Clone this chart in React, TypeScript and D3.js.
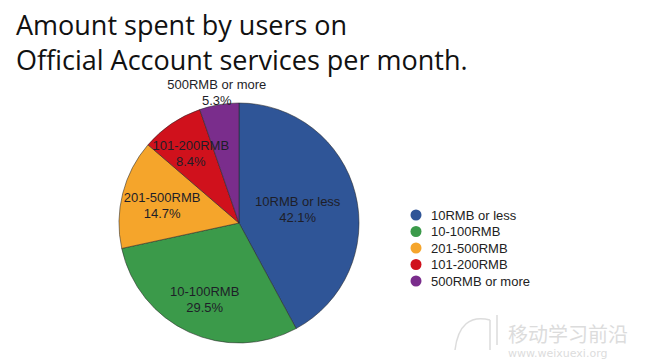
import React from "react";
import * as d3 from "d3";

const categories = ["10RMB or less", "10-100RMB", "201-500RMB", "101-200RMB", "500RMB or more"];
const values = [42.1, 29.5, 14.7, 8.4, 5.3];
const colors = ["#2f5597", "#3b9a4a", "#f5a52b", "#d0111c", "#7a2d8c"];
const titleLines = ["Amount spent by users on", "Official Account services per month."];
// label radius as a fraction of the pie radius (layout only)
const labelRadius = [0.505, 0.686, 0.661, 0.715, 1.118];

export default function App() {
  const W = 651, H = 361;
  const cx = 239, cy = 223, r = 120;
  const pie = d3.pie<number>().sort(null).value((d) => d)(values);
  const arc = d3.arc<d3.PieArcDatum<number>>().innerRadius(0).outerRadius(r);
  return (
    <div style={{ position: "absolute", left: 0, top: 0 }}>
      <svg width={W} height={H} style={{ display: "block", background: "#fff" }}>
        <rect width={W} height={H} fill="#fff" />
        {titleLines.map((t, i) => (
          <text key={i} x={16} y={35 + i * 35} fontFamily="'Open Sans', 'Noto Sans', sans-serif" fontSize={27}
            fill="#111">
            {t}
          </text>
        ))}
        <g transform={`translate(${cx},${cy})`}>
          {pie.map((p, i) => (
            <path key={i} d={arc(p) || ""} fill={colors[i]} stroke="#2a2a2a" strokeWidth={0.7} strokeOpacity={0.8} />
          ))}
          {pie.map((p, i) => {
            const a = (p.startAngle + p.endAngle) / 2;
            const rr = r * labelRadius[i];
            const x = Math.sin(a) * rr;
            const y = -Math.cos(a) * rr;
            return (
              <text key={i} x={x} y={y} textAnchor="middle" fontFamily="'Liberation Sans', Arial, sans-serif" fontSize={13} fill="#1e1e28">
                <tspan x={x} dy={-2}>{categories[i]}</tspan>
                <tspan x={x} dy={16}>{values[i].toFixed(1)}%</tspan>
              </text>
            );
          })}
        </g>
        <g transform="translate(416,215)">
          {categories.map((c, i) => (
            <g key={i} transform={`translate(0,${i * 16.5})`}>
              <circle cx={0} cy={0} r={5.5} fill={colors[i]} />
              <text x={15} y={4.5} fontFamily="'Liberation Sans', Arial, sans-serif" fontSize={13} fill="#222">{c}</text>
            </g>
          ))}
        </g>
        <g opacity={0.5}>
          <text x={508} y={342} fontFamily="'Noto Sans CJK SC', sans-serif" fontSize={20} fill="#bbb">移动学习前沿</text>
          <text x={508} y={357} fontFamily="'DejaVu Sans', sans-serif" fontSize={11} fill="#bbb">www.weixuexi.org</text>
          <path d="M455,350 C458,325 470,315 490,320 M490,320 L490,350 M497,315 L497,345" stroke="#bbb" fill="none" strokeWidth={1.5} />
        </g>
      </svg>
    </div>
  );
}
